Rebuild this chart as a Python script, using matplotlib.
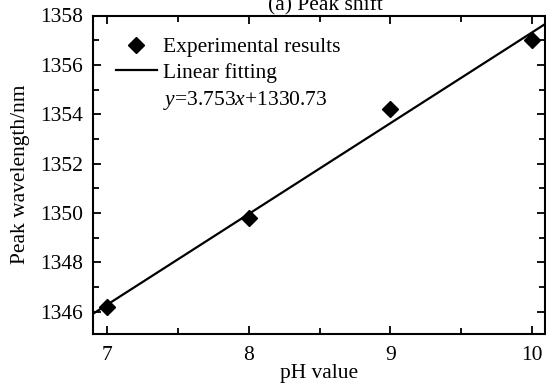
import numpy as np
import matplotlib
matplotlib.use("Agg")
import matplotlib.pyplot as plt
from matplotlib.ticker import MultipleLocator

# measured peaks
ph = [7, 8, 9, 10]
peak_nm = [1346.2, 1349.8, 1354.2, 1357.0]

plt.rcParams["font.family"] = ["Liberation Serif", "DejaVu Serif"]
plt.rcParams["mathtext.fontset"] = "custom"
plt.rcParams["mathtext.it"] = "Liberation Serif:italic"
plt.rcParams["mathtext.rm"] = "Liberation Serif"

FS = 15.5

fig = plt.figure(figsize=(5.46, 3.89), dpi=100)
ax = fig.add_axes([92.7 / 546, 1 - 334 / 389, (545 - 92.7) / 546, (334 - 15.5) / 389])

# linear fit over the data
k, b = np.polyfit(ph, peak_nm, 1)
xf = np.array([6.9, 10.1])

ax.plot(ph, peak_nm, "D", color="black", ms=8, label="Experimental results")
ax.plot(xf, k * xf + b, "-", color="black", lw=1.6, label="Linear fitting")

ax.set_xlim(6.9, 10.09)
ax.set_ylim(1345.1, 1358)
ax.xaxis.set_major_locator(MultipleLocator(1))
ax.xaxis.set_minor_locator(MultipleLocator(0.5))
ax.yaxis.set_major_locator(MultipleLocator(2))
ax.yaxis.set_minor_locator(MultipleLocator(1))
ax.tick_params(which="both", direction="in", top=True, right=True,
               labelsize=FS, width=1.3)
ax.tick_params(axis="x", pad=9)
ax.tick_params(axis="y", pad=7)
ax.tick_params(which="major", length=6)
ax.tick_params(which="minor", length=4)
for sp in ax.spines.values():
    sp.set_linewidth(1.5)

ax.set_xlabel("pH value", fontsize=FS, labelpad=-1)
ax.set_ylabel("Peak wavelength/nm", fontsize=FS, labelpad=7)
ax.set_title("(a) Peak shift", fontsize=FS, pad=3, x=0.515)

leg = ax.legend(loc="upper left", bbox_to_anchor=(0.004, 1.0), frameon=False,
                fontsize=FS, handlelength=1.9, handletextpad=0.3,
                labelspacing=0.25, borderaxespad=0.6)
ax.text(163, 389 - 101, r"$y$=3.753$x$+1330.73", fontsize=FS,
        transform=None, va="center", ha="left")

fig.savefig("out.png", dpi=100)
